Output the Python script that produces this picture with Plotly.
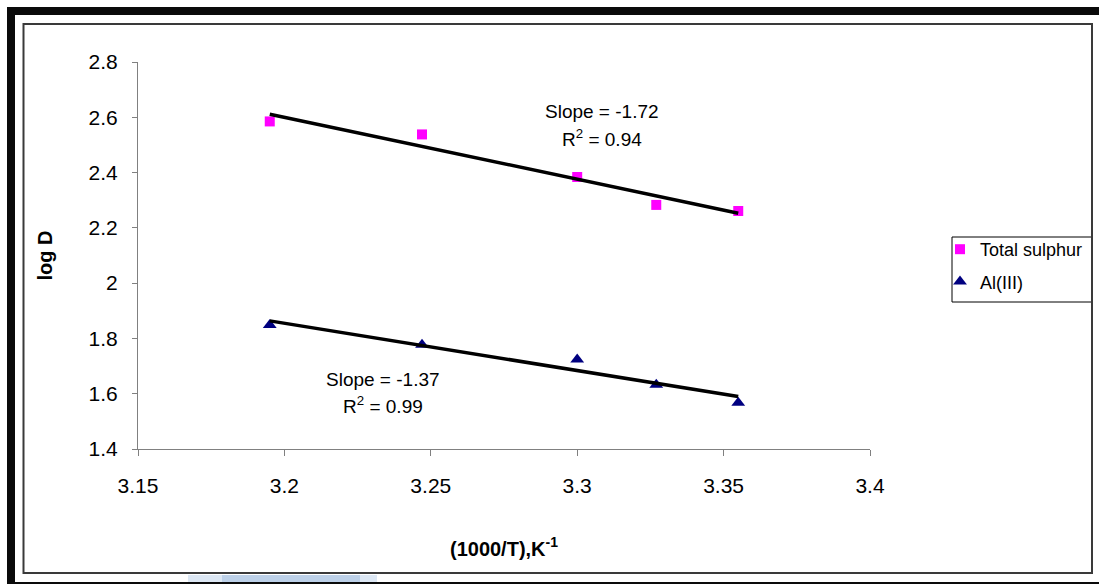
import numpy as np
import plotly.graph_objects as go

# ---- data ----
inv_T = [3.195, 3.247, 3.300, 3.327, 3.355]
log_d_sulphur = [2.585, 2.538, 2.384, 2.283, 2.261]
log_d_al = [1.849, 1.777, 1.724, 1.632, 1.567]
series_names = ["Total sulphur", "Al(III)"]
x_ticks = [3.15, 3.2, 3.25, 3.3, 3.35, 3.4]
x_tick_labels = ["3.15", "3.2", "3.25", "3.3", "3.35", "3.4"]
y_ticks = [1.4, 1.6, 1.8, 2.0, 2.2, 2.4, 2.6, 2.8]
y_tick_labels = ["1.4", "1.6", "1.8", "2", "2.2", "2.4", "2.6", "2.8"]
fit_labels = [("Slope = -1.72", "R<sup>2</sup> = 0.94"), ("Slope = -1.37", "R<sup>2</sup> = 0.99")]

W, H = 1099, 584
L, R, T, B = 138, 870, 62, 449  # plot area pixel box
FONT = "Arial, Liberation Sans, sans-serif"


def px(xp):
    return (xp - L) / (R - L)


def py(yp):
    return (B - yp) / (B - T)


fig = go.Figure()

fig.add_trace(go.Scatter(
    x=inv_T, y=log_d_sulphur, mode="markers", name=series_names[0],
    marker=dict(symbol="square", size=10, color="#FF00FF"),
    legendgroup="a"))
fig.add_trace(go.Scatter(
    x=inv_T, y=log_d_al, mode="markers", name=series_names[1],
    marker=dict(symbol="triangle-up", size=12, color="#000080"),
    legendgroup="b"))

for ys in (log_d_sulphur, log_d_al):
    k, c = np.polyfit(inv_T, ys, 1)
    xs = [min(inv_T), max(inv_T)]
    fig.add_trace(go.Scatter(
        x=xs, y=[k * v + c for v in xs], mode="lines",
        line=dict(color="black", width=3.5), showlegend=False, hoverinfo="skip"))

annos = []
pos = [((3.3085, 2.622), (3.3085, 2.525)), ((3.2337, 1.652), (3.2337, 1.558))]
for (l1, l2), ((x1, y1), (x2, y2)) in zip(fit_labels, pos):
    annos.append(dict(x=x1, y=y1, xref="x", yref="y", text=l1, showarrow=False,
                      font=dict(size=19, color="black", family=FONT)))
    annos.append(dict(x=x2, y=y2, xref="x", yref="y", text=l2, showarrow=False,
                      font=dict(size=19, color="black", family=FONT)))

shapes = [
    # faint blue artifact at the bottom
    dict(type="rect", xref="paper", yref="paper", x0=px(188), x1=px(377), y0=py(584), y1=py(575),
         fillcolor="#dce7f4", line=dict(width=0), layer="below"),
    dict(type="rect", xref="paper", yref="paper", x0=px(222), x1=px(360), y0=py(584), y1=py(575),
         fillcolor="#bcd0e8", line=dict(width=0), layer="below"),
    # legend box
    dict(type="rect", xref="paper", yref="paper", x0=px(952), x1=px(1092), y0=py(302), y1=py(237),
         fillcolor="white", line=dict(color="black", width=1), layer="above"),
    # inner chart border
    dict(type="rect", xref="paper", yref="paper", x0=px(23.5), x1=px(1092), y0=py(573), y1=py(24),
         line=dict(color="#3a3a3a", width=2), layer="above"),
    # outer thick black frame
    dict(type="rect", xref="paper", yref="paper", x0=px(7), x1=px(15), y0=py(584), y1=py(7),
         fillcolor="#0a0a0a", line=dict(width=0)),
    dict(type="rect", xref="paper", yref="paper", x0=px(7), x1=px(1099), y0=py(15), y1=py(7),
         fillcolor="#0a0a0a", line=dict(width=0)),
    dict(type="rect", xref="paper", yref="paper", x0=px(7), x1=px(1099), y0=py(584), y1=py(582),
         fillcolor="#0a0a0a", line=dict(width=0)),
]

fig.update_layout(
    width=W, height=H,
    margin=dict(l=L, r=W - R, t=T, b=H - B, autoexpand=False),
    paper_bgcolor="white", plot_bgcolor="white",
    font=dict(family=FONT, color="black"),
    showlegend=True,
    legend=dict(x=px(940), y=py(231), xanchor="left", yanchor="top",
                borderwidth=0, bgcolor="rgba(0,0,0,0)",
                font=dict(size=18, family=FONT), traceorder="grouped",
                tracegroupgap=6, itemwidth=30),
    annotations=annos,
    shapes=shapes,
    xaxis=dict(range=[3.15, 3.4], tickvals=x_ticks, ticktext=x_tick_labels,
               showgrid=False, zeroline=False, showline=True, linecolor="#808080", linewidth=1,
               ticks="outside", ticklen=6, tickcolor="#808080",
               tickfont=dict(size=21, family=FONT), ticklabelstandoff=12,
               title=dict(text="<b>(1000/T),K<sup>-1</sup></b>", font=dict(size=20, family=FONT),
                          standoff=45),
               automargin=False),
    yaxis=dict(range=[1.4, 2.8], tickvals=y_ticks, ticktext=y_tick_labels,
               showgrid=False, zeroline=False, showline=True, linecolor="#808080", linewidth=1,
               ticks="outside", ticklen=5, tickcolor="#808080",
               tickfont=dict(size=21, family=FONT), ticklabelstandoff=10,
               title=dict(text="<b>log D</b>", font=dict(size=20, family=FONT), standoff=30),
               automargin=False),
)

fig.write_html("out.html")
